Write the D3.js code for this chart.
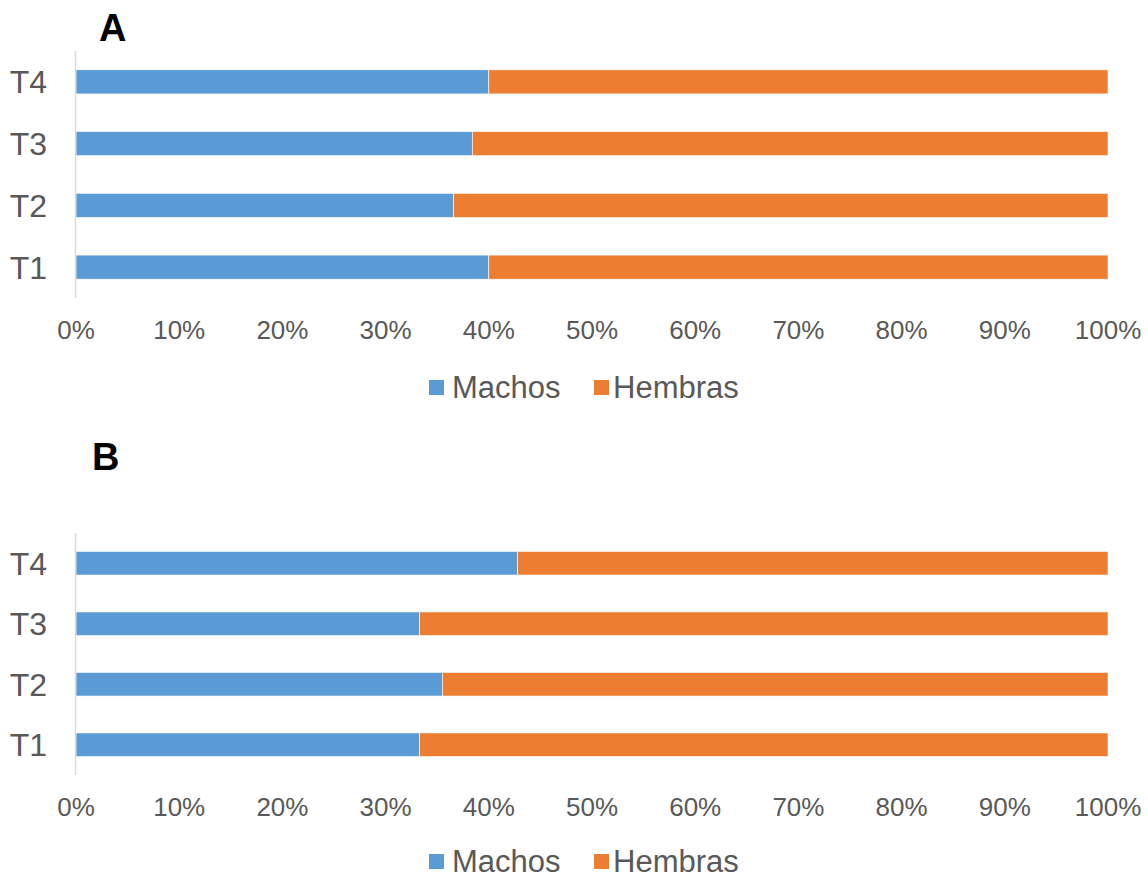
<!DOCTYPE html>
<html><head><meta charset="utf-8">
<script src="https://cdn.jsdelivr.net/npm/d3@7"></script>
<style>body{margin:0;background:#fff;} text{font-family:"Liberation Sans",Arial,sans-serif;}</style>
</head><body>
<svg id="c" width="1148" height="880"></svg>
<script>
const categories = ["T1","T2","T3","T4"];
const seriesNames = ["Machos","Hembras"];
const machosA = [40.0, 36.6, 38.4, 40.0];
const hembrasA = [60.0, 63.4, 61.6, 60.0];
const machosB = [33.3, 35.5, 33.3, 42.8];
const hembrasB = [66.7, 64.5, 66.7, 57.2];
const xTicks = [0,10,20,30,40,50,60,70,80,90,100];
const colors = ["#5b9bd5","#ed7d31"];

const svg = d3.select("#c");
const x = d3.scaleLinear().domain([0,100]).range([76,1108]);

function panel(title, titlePos, machos, hembras, top, bottom, tickY, legendY){
  const g = svg.append("g");
  g.append("text").attr("x", titlePos[0]).attr("y", titlePos[1])
    .attr("font-size", 38).attr("font-weight", "bold").attr("fill","#000").text(title);
  const y = d3.scaleBand().domain(categories.slice().reverse()).range([top,bottom]).paddingInner(0.61).paddingOuter(0.305);
  const data = categories.map((c,i)=>({cat:c, vals:[machos[i], hembras[i]]}));
  data.forEach(d=>{
    let acc = 0;
    d.vals.forEach((v,j)=>{
      g.append("rect").attr("x", x(acc)).attr("y", y(d.cat))
        .attr("width", x(acc+v)-x(acc)).attr("height", y.bandwidth())
        .attr("fill", colors[j]).attr("stroke","#fff").attr("stroke-width",0.6);
      acc += v;
    });
  });
  g.append("line").attr("x1",75.5).attr("x2",75.5).attr("y1",top).attr("y2",bottom)
    .attr("stroke","#d9d9d9").attr("stroke-width",1.5);
  categories.forEach(c=>{
    g.append("text").attr("x",47).attr("y", y(c)+y.bandwidth()/2).attr("dy","0.36em")
      .attr("text-anchor","end").attr("font-size",32).attr("fill","#595959").text(c);
  });
  xTicks.forEach(t=>{
    g.append("text").attr("x", x(t)).attr("y", tickY).attr("text-anchor","middle")
      .attr("font-size",26).attr("fill","#595959").text(t+"%");
  });
  const lg = g.append("g");
  lg.append("rect").attr("x",429).attr("y",legendY-7).attr("width",15).attr("height",15).attr("fill",colors[0]);
  lg.append("text").attr("x",452).attr("y",legendY).attr("dy","0.36em").attr("font-size",31).attr("fill","#595959").text(seriesNames[0]);
  lg.append("rect").attr("x",594).attr("y",legendY-7).attr("width",15).attr("height",15).attr("fill",colors[1]);
  lg.append("text").attr("x",613).attr("y",legendY).attr("dy","0.36em").attr("font-size",31).attr("fill","#595959").text(seriesNames[1]);
}
panel("A",[99,41], machosA, hembrasA, 51, 298, 339, 387);
panel("B",[92,470], machosB, hembrasB, 533, 775, 816, 861);
</script>
</body></html>
